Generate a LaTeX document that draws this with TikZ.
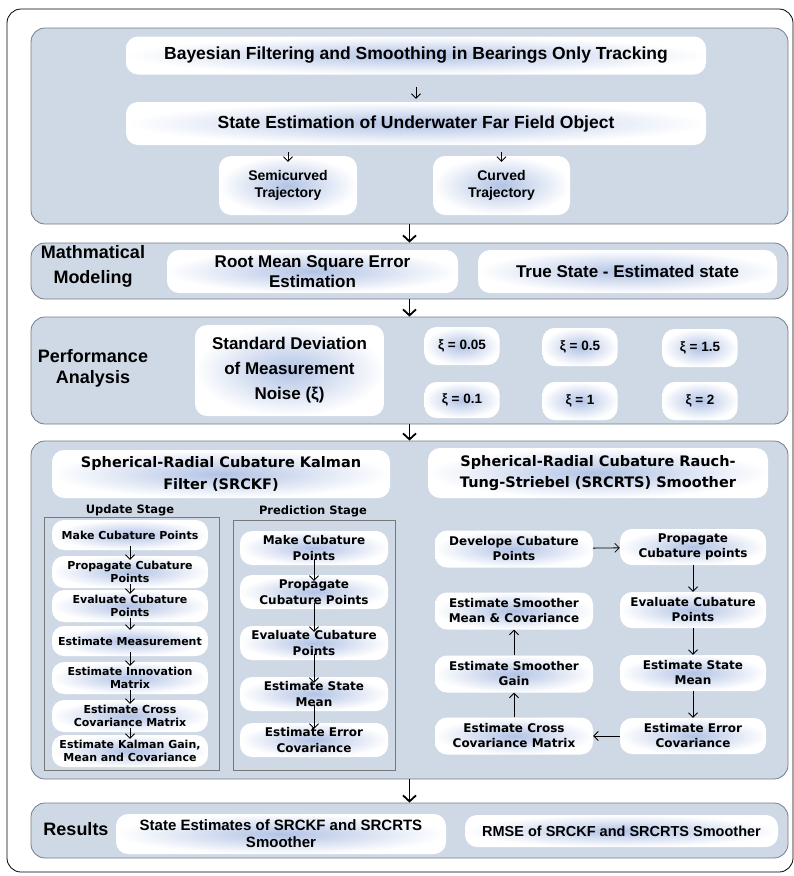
\documentclass[tikz,border=0pt]{standalone}
\usepackage{fontspec}
\setmainfont{Liberation Sans}
\newfontfamily\verd{DejaVu Sans}
\usetikzlibrary{positioning,arrows.meta}

\definecolor{panelfill}{RGB}{207,217,230}
\definecolor{panelline}{RGB}{115,125,138}
\definecolor{blobblue}{RGB}{178,195,229}
\definecolor{stageline}{RGB}{120,120,120}

\newcommand{\fs}[2]{\fontsize{#1}{#2}\selectfont}

\begin{document}
\begin{tikzpicture}[x=1pt,y=-1pt,
  panel/.style={draw=panelline, fill=panelfill, rounded corners=14pt, line width=0.8pt, inner sep=0pt},
  blob/.style={rounded corners=12pt, shade, inner color=blobblue, outer color=white, align=center, inner sep=0pt, font=\bfseries},
  lbl/.style={align=center, font=\bfseries},
  vblob/.style={blob, font=\verd\bfseries},
  vlbl/.style={lbl, font=\verd\bfseries},
  stagebox/.style={draw=stageline, line width=0.7pt},
  arr/.style={-{Straight Barb[length=4.5pt,width=9pt]}, line width=0.8pt},
  bigarr/.style={-{Straight Barb[length=6pt,width=13pt]}, line width=1.8pt}]
\useasboundingbox (0,0) rectangle (794,876);

\draw[line width=0.8pt, rounded corners=14pt] (7,9) rectangle (793,872);

% panels
\node[panel, minimum width=757, minimum height=196] (p1) at (409.5,126) {};
\node[panel, minimum width=757, minimum height=56] (p2) at (409.5,271) {};
\node[panel, minimum width=757, minimum height=107] (p3) at (409.5,370.5) {};
\node[panel, minimum width=757, minimum height=338] (p4) at (409.5,610) {};
\node[panel, minimum width=757, minimum height=55] (p5) at (409.5,830.5) {};

\draw[bigarr] (p1) -- (p2);
\draw[bigarr] (p2) -- (p3);
\draw[bigarr] (p3) -- (p4);
\draw[bigarr] (p4) -- (p5);

% tracking
\node[blob, minimum width=580, minimum height=38, font=\bfseries\fs{17.5}{21}] (bay) at (416,55.5) {Bayesian Filtering and Smoothing in Bearings Only Tracking};
\node[blob, minimum width=580, minimum height=43, font=\bfseries\fs{17.5}{21}] (obj) at (416,123.5) {State Estimation of Underwater Far Field Object};
\node[blob, minimum width=138, minimum height=59, font=\bfseries\fs{14}{17}] (semi) at (288,185.5) {Semicurved\\Trajectory};
\node[blob, minimum width=137, minimum height=59, font=\bfseries\fs{14}{17}] (curv) at (501.5,185.5) {Curved\\Trajectory};
\draw[arr, shorten <=12pt, shorten >=3pt] (bay) -- (obj);
\draw[arr, shorten <=7pt, shorten >=-6pt] (obj.south -| semi.north) -- (semi.north);
\draw[arr, shorten <=7pt, shorten >=-6pt] (obj.south -| curv.north) -- (curv.north);

% modeling
\node[lbl, font=\bfseries\fs{18}{25}] (model) at (93,266) {Mathmatical\\Modeling};
\node[blob, minimum width=291, minimum height=43, font=\bfseries\fs{17}{20}] (rmse) at (312.5,271.5) {Root Mean Square Error\\Estimation};
\node[blob, minimum width=299, minimum height=43, font=\bfseries\fs{17}{20}] (diff) at (627.5,271.5) {True State - Estimated state};

% performance
\node[lbl, font=\bfseries\fs{18}{21}] (perf) at (93,368) {Performance\\Analysis};
\node[blob, minimum width=189, minimum height=91, font=\bfseries\fs{17}{25}] (noise) at (289.5,370.5) {Standard Deviation\\of Measurement\\Noise (ξ)};
\node[blob, minimum width=75, minimum height=38, font=\bfseries\fs{13.5}{16}] (xa) at (462,346) {ξ = 0.05};
\node[blob, minimum width=75, minimum height=38, font=\bfseries\fs{13.5}{16}] (xb) at (580,347) {ξ = 0.5};
\node[blob, minimum width=75, minimum height=38, font=\bfseries\fs{13.5}{16}] (xc) at (700,348) {ξ = 1.5};
\node[blob, minimum width=75, minimum height=36, font=\bfseries\fs{13.5}{16}] (xd) at (462,400) {ξ = 0.1};
\node[blob, minimum width=75, minimum height=38, font=\bfseries\fs{13.5}{16}] (xe) at (580,401) {ξ = 1};
\node[blob, minimum width=75, minimum height=38, font=\bfseries\fs{13.5}{16}] (xf) at (700,401) {ξ = 2};

% filter
\node[vblob, minimum width=338, minimum height=48, font=\verd\bfseries\fs{14.5}{22}] (ckf) at (221,474) {Spherical-Radial Cubature Kalman\\Filter (SRCKF)};
\node[vlbl, font=\verd\bfseries\fs{11.5}{14}] (upd) at (130,510) {Update Stage};
\node[vlbl, font=\verd\bfseries\fs{11.5}{14}] (pred) at (313,511) {Prediction Stage};
\draw[stagebox] (44,517) rectangle (219,770);
\draw[stagebox] (233,520) rectangle (395,770);

\node[vblob, minimum width=156, minimum height=30, font=\verd\bfseries\fs{11}{13.5}] (u1) at (130,535) {Make Cubature Points};
\node[vblob, minimum width=156, minimum height=32, font=\verd\bfseries\fs{11}{13.5}] (u2) at (130,572) {Propagate Cubature\\Points};
\node[vblob, minimum width=156, minimum height=32, font=\verd\bfseries\fs{11}{13.5}] (u3) at (130,606) {Evaluate Cubature\\Points};
\node[vblob, minimum width=156, minimum height=30, font=\verd\bfseries\fs{11}{13.5}] (u4) at (130,641) {Estimate Measurement};
\node[vblob, minimum width=156, minimum height=32, font=\verd\bfseries\fs{11}{13.5}] (u5) at (130,678) {Estimate Innovation\\Matrix};
\node[vblob, minimum width=156, minimum height=32, font=\verd\bfseries\fs{11}{13.5}] (u6) at (130,716) {Estimate Cross\\Covariance Matrix};
\node[vblob, minimum width=156, minimum height=32, font=\verd\bfseries\fs{11}{13.5}] (u7) at (130,751) {Estimate Kalman Gain,\\Mean and Covariance};
\foreach \a/\b in {u1/u2,u2/u3,u3/u4,u4/u5,u5/u6,u6/u7}
  \draw[arr, shorten <=-4pt, shorten >=-4pt] (\a) -- (\b);

\node[vblob, minimum width=148, minimum height=34, font=\verd\bfseries\fs{12}{15.5}] (q1) at (314,548) {Make Cubature\\Points};
\node[vblob, minimum width=148, minimum height=34, font=\verd\bfseries\fs{12}{15.5}] (q2) at (314,592) {Propagate\\Cubature Points};
\node[vblob, minimum width=148, minimum height=34, font=\verd\bfseries\fs{12}{15.5}] (q3) at (314,643) {Evaluate Cubature\\Points};
\node[vblob, minimum width=148, minimum height=34, font=\verd\bfseries\fs{12}{15.5}] (q4) at (314,694) {Estimate State\\Mean};
\node[vblob, minimum width=148, minimum height=34, font=\verd\bfseries\fs{12}{15.5}] (q5) at (314,740) {Estimate Error\\Covariance};
\foreach \a/\b in {q1/q2,q2/q3,q3/q4,q4/q5}
  \draw[arr, shorten <=-6pt, shorten >=-6pt] (\a) -- (\b);

% smoother
\node[vblob, minimum width=340, minimum height=50, font=\verd\bfseries\fs{14.5}{21}] (rts) at (598,473) {Spherical-Radial Cubature Rauch-\\Tung-Striebel (SRCRTS) Smoother};
\node[vblob, minimum width=158, minimum height=37, font=\verd\bfseries\fs{12}{15}] (s1) at (514,549) {Develope Cubature\\Points};
\node[vblob, minimum width=146, minimum height=36, font=\verd\bfseries\fs{12}{15}] (s2) at (693,547) {Propagate\\Cubature points};
\node[vblob, minimum width=146, minimum height=36, font=\verd\bfseries\fs{12}{15}] (s3) at (693,610) {Evaluate Cubature\\Points};
\node[vblob, minimum width=146, minimum height=36, font=\verd\bfseries\fs{12}{15}] (s4) at (693,673) {Estimate State\\Mean};
\node[vblob, minimum width=146, minimum height=36, font=\verd\bfseries\fs{12}{15}] (s5) at (693,736) {Estimate Error\\Covariance};
\node[vblob, minimum width=158, minimum height=37, font=\verd\bfseries\fs{12}{15}] (s6) at (514,736) {Estimate Cross\\Covariance Matrix};
\node[vblob, minimum width=158, minimum height=37, font=\verd\bfseries\fs{12}{15}] (s7) at (514,674) {Estimate Smoother\\Gain};
\node[vblob, minimum width=158, minimum height=37, font=\verd\bfseries\fs{12}{15}] (s8) at (514,611) {Estimate Smoother\\Mean \& Covariance};
\draw[arr] (s1) -- (s2);
\draw[arr] (s2) -- (s3);
\draw[arr] (s3) -- (s4);
\draw[arr] (s4) -- (s5);
\draw[arr] (s5) -- (s6);
\draw[arr] (s6) -- (s7);
\draw[arr] (s7) -- (s8);

% results
\node[lbl, font=\bfseries\fs{18}{21}] (res) at (76,829) {Results};
\node[blob, minimum width=330, minimum height=40, font=\bfseries\fs{15}{17}] (est) at (281,834) {State Estimates of SRCKF and SRCRTS\\Smoother};
\node[blob, minimum width=313, minimum height=32, font=\bfseries\fs{14.5}{17}] (err) at (621.5,831) {RMSE of SRCKF and SRCRTS Smoother};

\end{tikzpicture}
\end{document}
